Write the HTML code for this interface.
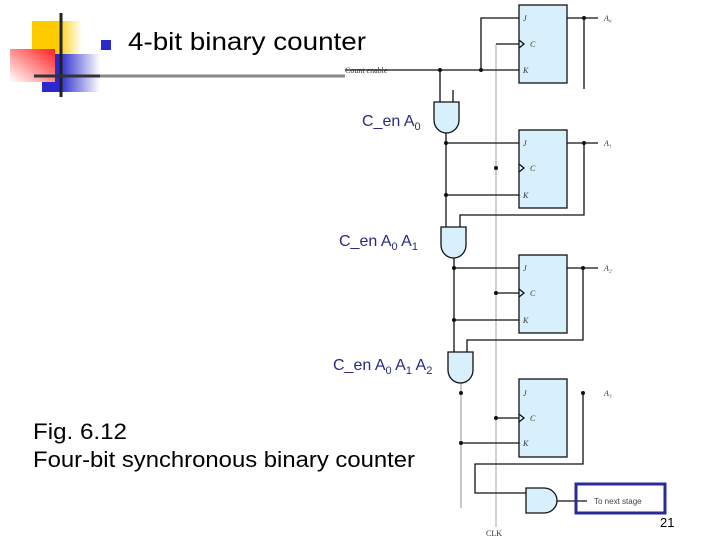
<!DOCTYPE html>
<html><head><meta charset="utf-8"><style>
html,body{margin:0;padding:0;background:#fff;}
svg{display:block;}
</style></head><body>
<svg width="720" height="540" viewBox="0 0 720 540" xmlns="http://www.w3.org/2000/svg" font-family="Liberation Sans, sans-serif">
<defs>
<linearGradient id="gy" x1="0" x2="1"><stop offset="0.5" stop-color="#ffcc00"/><stop offset="1" stop-color="#fff"/></linearGradient>
<linearGradient id="gr" x1="1" x2="0" y1="0" y2="1"><stop offset="0" stop-color="#ff2020"/><stop offset="1" stop-color="#fff"/></linearGradient>
<linearGradient id="gb" x1="0" x2="1"><stop offset="0.3" stop-color="#2a2acc"/><stop offset="1" stop-color="#fff"/></linearGradient>
</defs>
<!-- logo -->
<rect x="32" y="21" width="50" height="34" fill="url(#gy)"/>
<rect x="42" y="54" width="58" height="38" fill="url(#gb)"/>
<rect x="10" y="49" width="45" height="33" fill="url(#gr)"/>
<rect x="101" y="40" width="10" height="10" fill="#2a2acc"/>
<line x1="61" y1="13" x2="61" y2="97" stroke="#222" stroke-width="3"/>
<line x1="34" y1="76" x2="345" y2="76" stroke="#333" stroke-width="3"/>
<line x1="100" y1="76" x2="345" y2="76" stroke="#888" stroke-width="3"/>
<text x="128" y="50" font-size="25" textLength="238" lengthAdjust="spacingAndGlyphs" fill="#000">4-bit binary counter</text>

<g fill="none" stroke="#111" stroke-width="1.3">
<!-- CLK -->
<line x1="496" y1="44" x2="496" y2="527" stroke="#bbb"/>
<!-- FFs -->
<g fill="#d8f0fb">
<rect x="519" y="5" width="48" height="78"/>
<rect x="519" y="130" width="48" height="78"/>
<rect x="519" y="255" width="48" height="78"/>
<rect x="519" y="379" width="48" height="78"/>
</g>
<!-- FF1 -->
<line x1="345" y1="70" x2="519" y2="70"/>
<polyline points="481,70 481,18 519,18"/>
<line x1="496" y1="44" x2="519" y2="44"/>
<line x1="567" y1="18" x2="598" y2="18"/>
<line x1="584" y1="18" x2="584" y2="89"/>
<line x1="440" y1="70" x2="440" y2="102"/>
<line x1="453" y1="90" x2="453" y2="102"/>
<!-- FF2 -->
<line x1="446" y1="133" x2="446" y2="228"/>
<line x1="446" y1="143" x2="519" y2="143"/>
<line x1="446" y1="195" x2="519" y2="195"/>
<line x1="567" y1="143" x2="598" y2="143"/>
<polyline points="584,143 584,215 460,215 460,228"/>
<!-- FF3 -->
<line x1="454" y1="258" x2="454" y2="352"/>
<line x1="454" y1="268" x2="519" y2="268"/>
<line x1="454" y1="320" x2="519" y2="320"/>
<line x1="496" y1="293" x2="519" y2="293"/>
<line x1="567" y1="268" x2="598" y2="268"/>
<polyline points="583,268 583,340 467,340 467,352"/>
<!-- FF4 -->
<line x1="461" y1="383" x2="461" y2="508" stroke="#aaa"/>
<line x1="461" y1="443" x2="519" y2="443"/>
<line x1="496" y1="418" x2="519" y2="418"/>
<polyline points="583,393 583,464 475,464 475,493 526,493"/>
<line x1="557" y1="501" x2="587" y2="501"/>
<!-- clock arrows -->
<polyline points="519,40 524,44 519,48"/>
<polyline points="519,164 524,168 519,172"/>
<polyline points="519,289 524,293 519,297"/>
<polyline points="519,414 524,418 519,422"/>
<!-- AND gates -->
<g fill="#d8f0fb">
<path d="M434,102 H459 V120 A12.5,13 0 0 1 434,120 Z"/>
<path d="M441,227 H466 V245 A12.5,13 0 0 1 441,245 Z"/>
<path d="M448,352 H473 V370 A12.5,13 0 0 1 448,370 Z"/>
<path d="M526,488 H544 A13,12.5 0 0 1 544,513 H526 Z"/>
</g>
</g>
<g fill="#111">
<circle cx="440" cy="70" r="2"/><circle cx="481" cy="70" r="2"/><circle cx="584" cy="18" r="2"/>
<circle cx="446" cy="143" r="2"/><circle cx="446" cy="195" r="2"/><circle cx="584" cy="143" r="2"/><circle cx="496" cy="168" r="2"/>
<circle cx="454" cy="268" r="2"/><circle cx="454" cy="320" r="2"/><circle cx="583" cy="268" r="2"/><circle cx="496" cy="293" r="2"/>
<circle cx="461" cy="393" r="2"/><circle cx="461" cy="443" r="2"/><circle cx="583" cy="393" r="2"/><circle cx="496" cy="418" r="2"/>
</g>
<g font-family="Liberation Serif, serif" font-style="italic" font-size="8" fill="#333">
<text x="523" y="21">J</text><text x="530" y="47">C</text><text x="523" y="73">K</text>
<text x="523" y="146">J</text><text x="530" y="171">C</text><text x="523" y="198">K</text>
<text x="523" y="271">J</text><text x="530" y="296">C</text><text x="523" y="323">K</text>
<text x="523" y="396">J</text><text x="530" y="421">C</text><text x="523" y="446">K</text>
<text x="604" y="21">A₀</text><text x="604" y="146">A₁</text><text x="604" y="271">A₂</text><text x="604" y="396">A₃</text>
<text x="486" y="536" font-style="normal">CLK</text>
</g>
<text x="345" y="73" font-family="Liberation Serif, serif" font-size="8" fill="#333">Count enable</text>
<rect x="576" y="484" width="89" height="29" fill="none" stroke="#2a2a99" stroke-width="3"/>
<text x="594" y="504" font-size="8" fill="#444">To next stage</text>
<text x="660" y="527" font-size="13" fill="#000">21</text>
<g fill="#2a2a80" font-size="16">
<text x="362" y="126">C_en A<tspan font-size="11" dy="4">0</tspan></text>
<text x="339" y="246">C_en A<tspan font-size="11" dy="4">0</tspan><tspan dy="-4"> A</tspan><tspan font-size="11" dy="4">1</tspan></text>
<text x="333" y="370">C_en A<tspan font-size="11" dy="4">0</tspan><tspan dy="-4"> A</tspan><tspan font-size="11" dy="4">1</tspan><tspan dy="-4"> A</tspan><tspan font-size="11" dy="4">2</tspan></text>
</g>
<text x="33" y="439" font-size="22" textLength="94" lengthAdjust="spacingAndGlyphs" fill="#000">Fig. 6.12</text>
<text x="33" y="467" font-size="22" textLength="382" lengthAdjust="spacingAndGlyphs" fill="#000">Four-bit synchronous binary counter</text>
</svg>
</body></html>
